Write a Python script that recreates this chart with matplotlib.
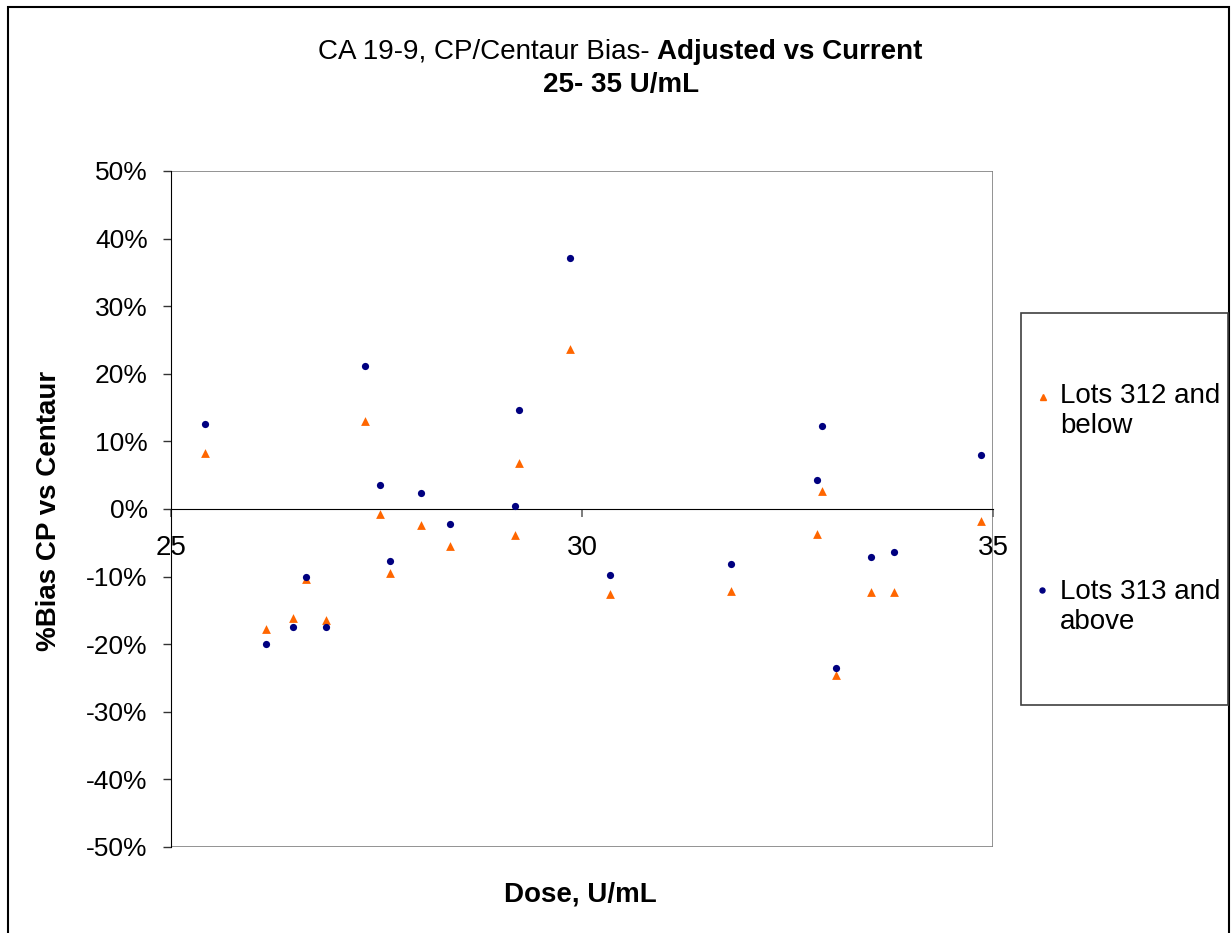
import matplotlib
matplotlib.use("Agg")
from matplotlib import pyplot as plt
from matplotlib.patches import Rectangle
from matplotlib.lines import Line2D
from matplotlib.ticker import PercentFormatter

plt.rcParams["font.family"] = ["Liberation Sans", "DejaVu Sans"]
plt.rcParams["axes.unicode_minus"] = False

# dose (U/mL) and % bias CP vs Centaur for each lot group
dose = [25.41, 26.16, 26.48, 26.64, 26.88, 27.36, 27.54, 27.67, 28.04, 28.40, 29.19,
        29.23, 29.85, 30.34, 31.81, 32.86, 32.92, 33.09, 33.52, 33.80, 34.86]
lots_312 = [8.3, -17.7, -16.1, -10.3, -16.4, 13.0, -0.8, -9.4, -2.4, -5.5, -3.8,
            6.8, 23.6, -12.5, -12.2, -3.7, 2.6, -24.5, -12.3, -12.3, -1.8]
lots_313 = [12.6, -19.9, -17.5, -10.0, -17.5, 21.1, 3.5, -7.7, 2.3, -2.2, 0.4,
            14.7, 37.1, -9.7, -8.1, 4.3, 12.3, -23.5, -7.1, -6.4, 8.0]
labels = ["Lots 312 and\nbelow", "Lots 313 and\nabove"]
x_ticks = [25, 30, 35]
y_ticks = [-50, -40, -30, -20, -10, 0, 10, 20, 30, 40, 50]

W, H = 1232, 933
orange = "#FF6600"
navy = "#000080"


def fx(px):
    return px / W


def fy(py):
    return 1 - py / H


fig = plt.figure(figsize=(W / 100, H / 100), dpi=100)
fig.patch.set_facecolor("white")

# outer chart border
fig.add_artist(Rectangle((fx(8), fy(945)), fx(1229) - fx(8), fy(7) - fy(945),
                         transform=fig.transFigure, fill=False,
                         edgecolor="black", linewidth=1.5))

ax = fig.add_axes([fx(171), fy(847), fx(993) - fx(171), fy(171) - fy(847)])
ax.scatter(dose, lots_312, marker="^", s=40, color=orange, linewidths=0, zorder=3)
ax.scatter(dose, lots_313, marker="o", s=27, color=navy, linewidths=0, zorder=4)

ax.set_xlim(25, 35)
ax.set_ylim(-50, 50)
ax.set_xticks(x_ticks)
ax.set_yticks(y_ticks)
ax.yaxis.set_major_formatter(PercentFormatter(100, decimals=0))

for s in ["top", "right"]:
    ax.spines[s].set_visible(False)
ax.spines["left"].set_color("black")
ax.spines["bottom"].set_position(("data", 0))
ax.spines["bottom"].set_color("black")
ax.add_patch(Rectangle((0, 0), 1, 1, transform=ax.transAxes, fill=False,
                       edgecolor="#808080", linewidth=1.2, zorder=0.5))

ax.tick_params(axis="y", direction="out", length=5.8, width=1, color="#333333",
               labelsize=19, pad=11)
ax.tick_params(axis="x", direction="out", length=5.8, width=1.2, color="#666666",
               labelsize=20, pad=13)

# title with mixed weights
r = fig.canvas.get_renderer()
t1 = fig.text(0, fy(59), "CA 19-9, CP/Centaur Bias-", fontsize=20, va="baseline")
t2 = fig.text(0, fy(59), "Adjusted vs Current", fontsize=20, fontweight="bold",
              va="baseline")
w1 = t1.get_window_extent(r).width
w2 = t2.get_window_extent(r).width
gap = 7
x0 = 620 - (w1 + gap + w2) / 2
t1.set_x(fx(x0))
t2.set_x(fx(x0 + w1 + gap))
fig.text(fx(621), fy(92), "25- 35 U/mL", fontsize=20, fontweight="bold",
         ha="center", va="baseline")

fig.text(fx(49), fy(511), "%Bias CP vs Centaur", fontsize=20, fontweight="bold",
         rotation=90, ha="center", va="center")
fig.text(fx(580), fy(902), "Dose, U/mL", fontsize=20, fontweight="bold",
         ha="center", va="baseline")

# legend box
fig.add_artist(Rectangle((fx(1021), fy(705)), fx(1228) - fx(1021), fy(313) - fy(705),
                         transform=fig.transFigure, fill=False,
                         edgecolor="#404040", linewidth=1.2))
fig.add_artist(Line2D([fx(1043)], [fy(397)], marker="^", markersize=4.5,
                      color=orange, linestyle="none", transform=fig.transFigure))
fig.add_artist(Line2D([fx(1042)], [fy(590)], marker="o", markersize=3.6,
                      color=navy, linestyle="none", transform=fig.transFigure))
fig.text(fx(1060), fy(411), labels[0], fontsize=20, ha="left", va="center")
fig.text(fx(1060), fy(607), labels[1], fontsize=20, ha="left", va="center")

fig.savefig("out.png", dpi=100)
